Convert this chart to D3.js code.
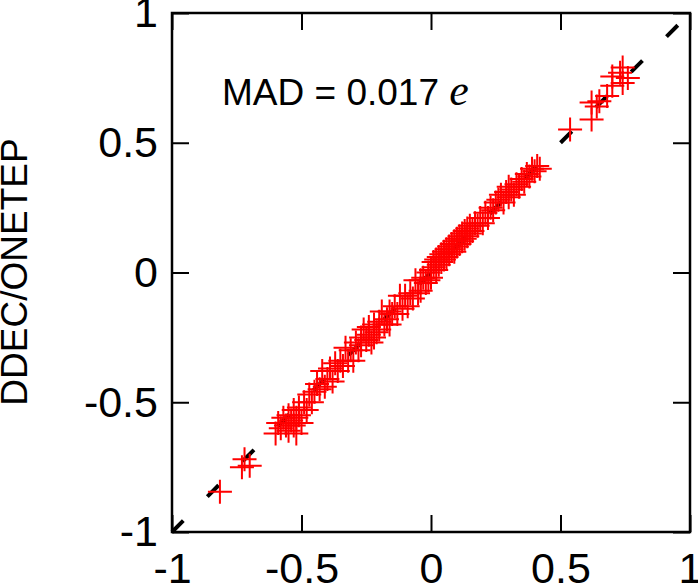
<!DOCTYPE html>
<html>
<head>
<meta charset="utf-8">
<script src="https://cdn.jsdelivr.net/npm/d3@7"></script>
<style>
  body { margin: 0; background: #fff; }
  text { font-family: "Liberation Sans", Arial, sans-serif; }
</style>
</head>
<body>
<svg id="chart" width="698" height="584"></svg>
<script>
// reference charge (x) vs DDEC/ONETEP charge (y), in e
const refCharge = [
  -0.815, -0.72, -0.70, -0.73,
  -0.59, -0.58, -0.57, -0.56, -0.55, -0.55, -0.54, -0.53, -0.53, -0.52, -0.51, -0.51, -0.50, -0.49, -0.48, -0.47, -0.46, -0.45, -0.60, -0.52,
  -0.44, -0.43, -0.42, -0.41, -0.40, -0.39, -0.38, -0.37, -0.36, -0.35, -0.34, -0.33, -0.32, -0.31, -0.30,
  -0.29, -0.28, -0.27, -0.27, -0.26, -0.25, -0.24, -0.24, -0.23, -0.22, -0.21, -0.20, -0.20, -0.19, -0.18, -0.17, -0.16, -0.16, -0.15, -0.22,
  -0.14, -0.13, -0.12, -0.11, -0.10, -0.09, -0.08, -0.07, -0.06, -0.05, -0.04, -0.04, -0.03, -0.02, -0.01, -0.01, 0.00, 0.00,
  0.01, 0.01, 0.02, 0.02, 0.03, 0.03, 0.04, 0.04, 0.05, 0.05, 0.06, 0.06, 0.07, 0.07, 0.08, 0.08, 0.09, 0.09, 0.10, 0.10, 0.11, 0.11, 0.12, 0.12, 0.13, 0.13, 0.14, 0.14, 0.15, 0.15,
  0.16, 0.17, 0.18, 0.19, 0.20, 0.21, 0.22, 0.23, 0.24, 0.25,
  0.26, 0.27, 0.28, 0.29, 0.30, 0.30, 0.31, 0.32, 0.33, 0.34, 0.35, 0.36, 0.37, 0.38, 0.39, 0.40, 0.41, 0.42,
  0.537, 0.62,
  0.62, 0.65, 0.68, 0.64,
  0.70, 0.73, 0.74, 0.76, 0.70, 0.74
];
const ddecCharge = [
  -0.845, -0.72, -0.745, -0.75,
  -0.58, -0.60, -0.56, -0.59, -0.55, -0.61, -0.57, -0.53, -0.59, -0.56, -0.52, -0.55, -0.58, -0.50, -0.53, -0.47, -0.50, -0.46, -0.62, -0.62,
  -0.43, -0.45, -0.38, -0.44, -0.41, -0.37, -0.42, -0.35, -0.38, -0.34, -0.36, -0.29, -0.34, -0.30, -0.34,
  -0.27, -0.30, -0.25, -0.28, -0.22, -0.26, -0.24, -0.21, -0.27, -0.20, -0.23, -0.19, -0.22, -0.15, -0.20, -0.18, -0.15, -0.20, -0.16, -0.25,
  -0.13, -0.16, -0.09, -0.14, -0.09, -0.13, -0.08, -0.10, -0.03, -0.08, -0.03, -0.07, -0.02, -0.04, 0.00, -0.03, 0.01, -0.02,
  0.02, 0.04, 0.01, 0.05, 0.03, 0.06, 0.04, 0.07, 0.05, 0.08, 0.06, 0.09, 0.07, 0.10, 0.09, 0.11, 0.08, 0.12, 0.10, 0.13, 0.11, 0.14, 0.12, 0.15, 0.13, 0.16, 0.14, 0.17, 0.15, 0.18,
  0.16, 0.19, 0.18, 0.21, 0.19, 0.23, 0.21, 0.25, 0.24, 0.27,
  0.28, 0.30, 0.27, 0.31, 0.29, 0.33, 0.32, 0.30, 0.34, 0.33, 0.36, 0.35, 0.38, 0.37, 0.40, 0.39, 0.41, 0.40,
  0.551, 0.59,
  0.655, 0.66, 0.68, 0.64,
  0.755, 0.77, 0.73, 0.75, 0.72, 0.79
];
const tickValues = [-1, -0.5, 0, 0.5, 1];
const madText = "MAD = 0.017";

const svg = d3.select("#chart");
const dim = { left: 172, right: 690, top: 13, bottom: 532 };

const x = d3.scaleLinear().domain([-1, 1]).range([dim.left, dim.right]);
const y = d3.scaleLinear().domain([-1, 1]).range([dim.bottom, dim.top]);

const fmt = d => (d === 0 ? "0" : String(d));

// axes: labels on bottom/left, inward ticks on all four sides
const tickLen = 17;
svg.append("g")
  .attr("transform", "translate(0," + dim.bottom + ")")
  .call(d3.axisBottom(x).tickValues(tickValues).tickFormat(fmt).tickSizeInner(-tickLen).tickSizeOuter(0).tickPadding(20))
  .call(g => g.select(".domain").remove());
svg.append("g")
  .attr("transform", "translate(" + dim.left + ",0)")
  .call(d3.axisLeft(y).tickValues(tickValues).tickFormat(fmt).tickSizeInner(-tickLen).tickSizeOuter(0).tickPadding(14))
  .call(g => g.select(".domain").remove());
svg.append("g")
  .attr("transform", "translate(0," + dim.top + ")")
  .call(d3.axisTop(x).tickValues(tickValues).tickFormat("").tickSizeInner(-tickLen).tickSizeOuter(0))
  .call(g => g.select(".domain").remove());
svg.append("g")
  .attr("transform", "translate(" + dim.right + ",0)")
  .call(d3.axisRight(y).tickValues(tickValues).tickFormat("").tickSizeInner(-tickLen).tickSizeOuter(0))
  .call(g => g.select(".domain").remove());

svg.selectAll(".tick line").attr("stroke", "#000").attr("stroke-width", 2);
svg.selectAll(".tick text")
  .attr("font-size", 43)
  .attr("font-family", "Liberation Sans, Arial, sans-serif")
  .attr("fill", "#000");

// y = x reference line
svg.append("line")
  .attr("x1", x(-1)).attr("y1", y(-1))
  .attr("x2", x(1)).attr("y2", y(1))
  .attr("stroke", "#000")
  .attr("stroke-width", 4)
  .attr("stroke-dasharray", "16,34");

// points as "+" markers
const arm = 12;
const pts = refCharge.map((v, i) => [v, ddecCharge[i]]);
svg.append("g")
  .selectAll("path")
  .data(pts)
  .join("path")
  .attr("d", d => {
    const px = x(d[0]), py = y(d[1]);
    return "M" + (px - arm) + "," + py + "H" + (px + arm) + "M" + px + "," + (py - arm) + "V" + (py + arm);
  })
  .attr("fill", "none")
  .attr("stroke", "#ff0000")
  .attr("stroke-width", 2);

// frame
svg.append("rect")
  .attr("x", dim.left).attr("y", dim.top)
  .attr("width", dim.right - dim.left).attr("height", dim.bottom - dim.top)
  .attr("fill", "none")
  .attr("stroke", "#000")
  .attr("stroke-width", 2.5);

// annotation
const ann = svg.append("text")
  .attr("x", 222).attr("y", 105)
  .attr("font-size", 37)
  .attr("fill", "#000");
ann.append("tspan").text(madText + " ");
ann.append("tspan")
  .attr("font-family", "Liberation Serif, Times New Roman, serif")
  .attr("font-style", "italic")
  .attr("font-size", 44)
  .text("e");

// y axis title
svg.append("text")
  .attr("transform", "translate(27," + 272 + ") rotate(-90)")
  .attr("text-anchor", "middle")
  .attr("font-size", 37)
  .attr("fill", "#000")
  .text("DDEC/ONETEP");
</script>
</body>
</html>
